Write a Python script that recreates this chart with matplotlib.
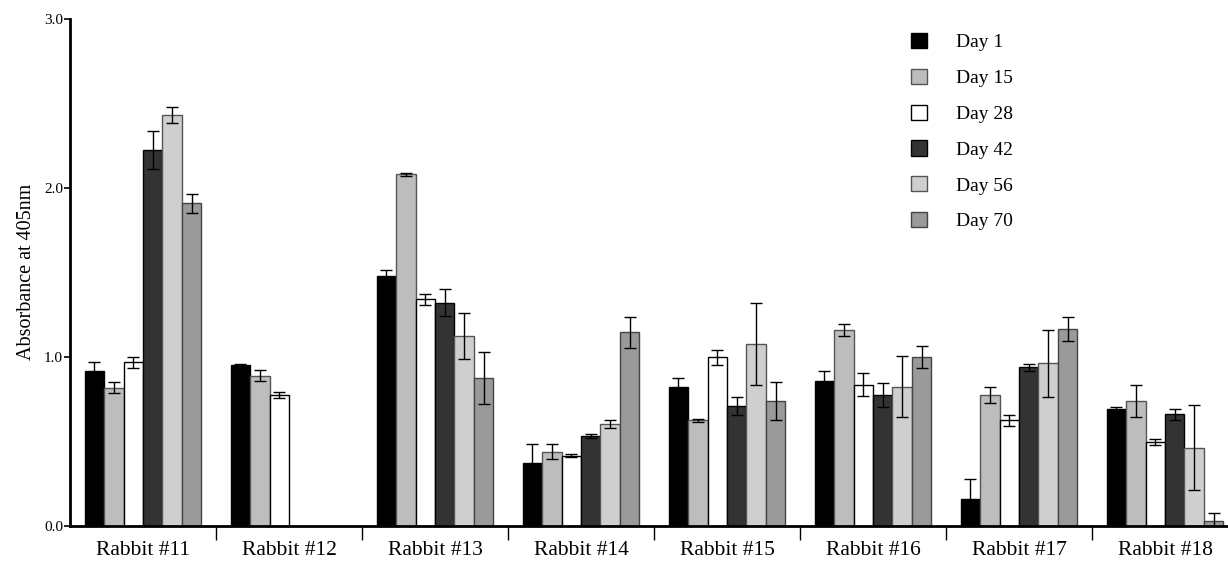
import numpy as np
import matplotlib
matplotlib.use("Agg")
import matplotlib.pyplot as plt

# Datos
conejos = ["Rabbit #11", "Rabbit #12", "Rabbit #13", "Rabbit #14",
           "Rabbit #15", "Rabbit #16", "Rabbit #17", "Rabbit #18"]
dias = ["Day 1", "Day 15", "Day 28", "Day 42", "Day 56", "Day 70"]

dia1 = [0.914, 0.950, 1.480, 0.371, 0.822, 0.856, 0.161, 0.694]
dia15 = [0.818, 0.888, 2.081, 0.440, 0.625, 1.159, 0.775, 0.741]
dia28 = [0.967, 0.772, 1.340, 0.416, 0.998, 0.836, 0.625, 0.497]
dia42 = [2.223, np.nan, 1.321, 0.532, 0.708, 0.773, 0.938, 0.660]
dia56 = [2.431, np.nan, 1.125, 0.601, 1.076, 0.824, 0.962, 0.463]
dia70 = [1.907, np.nan, 0.877, 1.145, 0.741, 0.998, 1.167, 0.031]

err1 = [0.053, 0.007, 0.034, 0.114, 0.055, 0.059, 0.115, 0.012]
err15 = [0.032, 0.032, 0.009, 0.045, 0.008, 0.034, 0.049, 0.095]
err28 = [0.032, 0.018, 0.034, 0.010, 0.045, 0.067, 0.033, 0.019]
err42 = [0.113, np.nan, 0.079, 0.014, 0.053, 0.071, 0.022, 0.034]
err56 = [0.047, np.nan, 0.136, 0.024, 0.245, 0.181, 0.197, 0.251]
err70 = [0.057, np.nan, 0.154, 0.093, 0.112, 0.066, 0.071, 0.046]

valores = [dia1, dia15, dia28, dia42, dia56, dia70]
errores = [err1, err15, err28, err42, err56, err70]
colores = ["#000000", "#bdbdbd", "#ffffff", "#333333", "#cfcfcf", "#9a9a9a"]
bordes = ["#000000", "#555555", "#000000", "#000000", "#555555", "#444444"]

plt.rcParams["font.family"] = ["Liberation Serif", "DejaVu Serif"]

fig = plt.figure(figsize=(12.28, 5.62), dpi=100)
# el eje se sale por la derecha, como en el original (recortado)
ax = fig.add_axes([70 / 1228, 36 / 562, (1238 - 70) / 1228, (526 - 18.6) / 562])

x = np.arange(len(conejos))
ancho = 0.133
barras = []
for k in range(len(dias)):
    pos = x + (k - 2.5) * ancho
    b = ax.bar(pos, valores[k], width=ancho, color=colores[k],
               edgecolor=bordes[k], linewidth=1.0, label=dias[k], zorder=2)
    barras.append(b)
    ax.errorbar(pos, valores[k], yerr=errores[k], fmt="none", ecolor="black",
                elinewidth=1.0, capsize=4.5, capthick=1.0, zorder=3)

ax.set_xlim(-0.5, len(conejos) - 0.5)
ax.set_ylim(0, 3.0)
ax.set_yticks([0, 1, 2, 3])
ax.set_yticklabels(["0.0", "1.0", "2.0", "3.0"], fontsize=11)
ax.set_ylabel("Absorbance at 405nm", fontsize=14.5, labelpad=6)

ax.set_xticks(x)
ax.set_xticklabels(conejos, fontsize=15.5)
ax.tick_params(axis="x", which="major", length=0, pad=11)
ax.set_xticks(np.arange(0.5, len(conejos) - 0.5, 1), minor=True)
ax.tick_params(axis="x", which="minor", length=10, width=1, direction="out")
ax.tick_params(axis="y", length=4, width=1.2, direction="out", pad=1)

ax.spines["top"].set_visible(False)
ax.spines["right"].set_visible(False)
ax.spines["left"].set_linewidth(2)
ax.spines["bottom"].set_linewidth(2)

fig.legend(handles=barras, labels=dias, loc="upper left",
           bbox_to_anchor=(911 / 1228, 1 - 33 / 562), frameon=False,
           fontsize=14, handlelength=0.82, handleheight=0.82,
           handletextpad=1.5, labelspacing=0.9, borderpad=0, borderaxespad=0)

fig.savefig("out.png", dpi=100)
